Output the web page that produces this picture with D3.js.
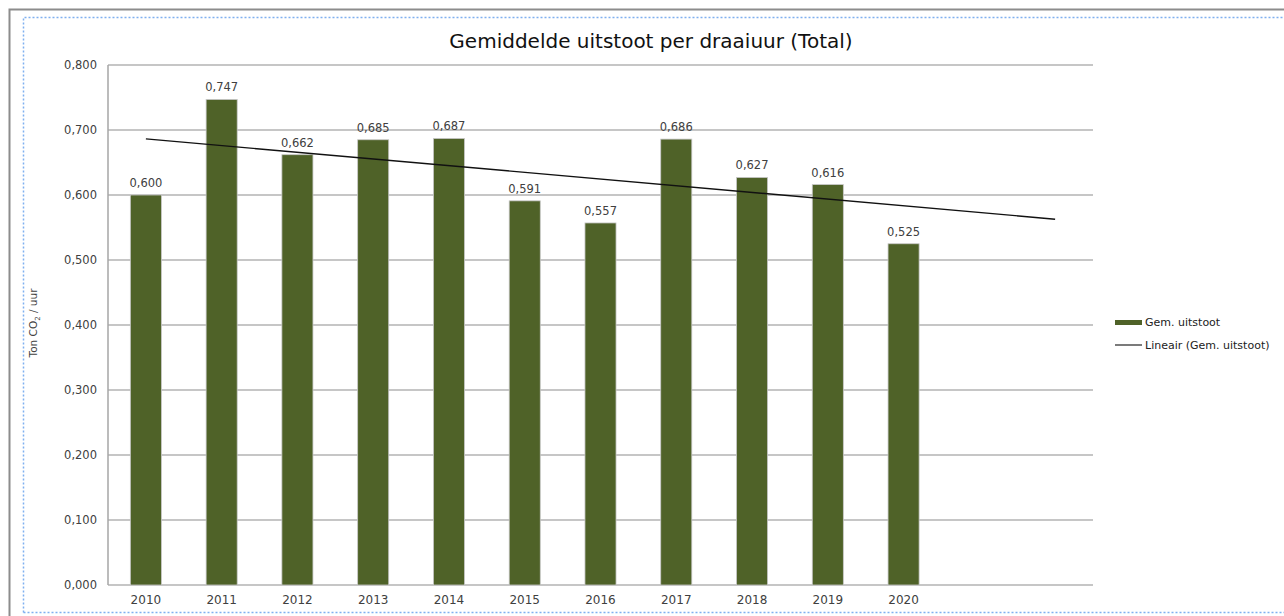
<!DOCTYPE html>
<html><head><meta charset="utf-8">
<script src="https://cdn.jsdelivr.net/npm/d3@7"></script>
<style>body{margin:0;background:#fff;}svg{display:block;font-family:"DejaVu Sans",Arial,sans-serif;}</style>
</head><body>
<svg id="c" width="1284" height="616"></svg>
<script>
const categories = ["2010","2011","2012","2013","2014","2015","2016","2017","2018","2019","2020","2021","2022"];
const years = ["2010","2011","2012","2013","2014","2015","2016","2017","2018","2019","2020"];
const values = [0.600,0.747,0.662,0.685,0.687,0.591,0.557,0.686,0.627,0.616,0.525];
const yTicks = [0,0.1,0.2,0.3,0.4,0.5,0.6,0.7,0.8];
const labels = values.map(v => v.toFixed(3).replace(".", ","));
const tickLabels = yTicks.map(v => v.toFixed(3).replace(".", ","));

(function(){
const svg = d3.select("#c");
// outer frames
svg.append("path").attr("d","M9.5,616 V9.5 H1284").attr("fill","none").attr("stroke","#8c8c8c").attr("stroke-width",2);
svg.append("path").attr("d","M23.5,612.5 V17.5 H1284 M23.5,612.5 H1284").attr("fill","none")
  .attr("stroke","#7fb0f0").attr("stroke-width",1.5).attr("stroke-dasharray","2,2");

const pL = 108, pR = 1093, pT = 65, pB = 585;
const x = d3.scaleBand().domain(categories).range([pL, pR]).paddingInner(0.59).paddingOuter(0.295);
const y = d3.scaleLinear().domain([0, 0.8]).range([pB, pT]);

// gridlines
svg.append("g").selectAll("line").data(yTicks).join("line")
  .attr("x1", pL).attr("x2", pR).attr("y1", d => y(d)).attr("y2", d => y(d))
  .attr("stroke", "#b3b3b3").attr("stroke-width", 1.5);
// y axis line
svg.append("line").attr("x1",pL).attr("x2",pL).attr("y1",pT).attr("y2",pB).attr("stroke","#a6a6a6").attr("stroke-width",1.5);

// y tick labels
svg.append("g").selectAll("text").data(yTicks).join("text")
  .attr("x", 97).attr("y", d => y(d)).attr("dy","0.35em").attr("text-anchor","end")
  .attr("font-size", 11.5).attr("fill","#404040").text((d,i) => tickLabels[i]);

// x labels
svg.append("g").selectAll("text").data(years).join("text")
  .attr("x", d => x(d) + x.bandwidth()/2).attr("y", 604).attr("text-anchor","middle")
  .attr("font-size", 12).attr("fill","#404040").text(d => d);

// bars
svg.append("g").selectAll("rect").data(years).join("rect")
  .attr("x", d => x(d)).attr("width", x.bandwidth())
  .attr("y", (d,i) => y(values[i])).attr("height", (d,i) => y(0) - y(values[i]))
  .attr("fill", "#4f6228").attr("stroke","#c8c8c8").attr("stroke-width",0.8);

// value labels
svg.append("g").selectAll("text").data(years).join("text")
  .attr("x", d => x(d) + x.bandwidth()/2).attr("y", (d,i) => y(values[i]) - 8)
  .attr("text-anchor","middle").attr("font-size", 11.5).attr("fill","#404040").text((d,i) => labels[i]);

// linear trend (least squares over data)
const n = values.length;
const xs = d3.range(n);
const mx = d3.mean(xs), my = d3.mean(values);
const slope = d3.sum(xs, i => (i-mx)*(values[i]-my)) / d3.sum(xs, i => (i-mx)*(i-mx));
const icpt = my - slope*mx;
const trend = categories.map((c,i) => ({c, v: icpt + slope*i}));
svg.append("path").datum([trend[0], trend[trend.length-1]])
  .attr("d", d3.line().x(d => x(d.c) + x.bandwidth()/2).y(d => y(d.v)))
  .attr("fill","none").attr("stroke","#111").attr("stroke-width",1.4);

// title
svg.append("text").attr("x", 651).attr("y", 48).attr("text-anchor","middle")
  .attr("font-size", 20).attr("fill","#111").text("Gemiddelde uitstoot per draaiuur (Total)");

// y axis title
const yt = svg.append("text").attr("transform","translate(37,323) rotate(-90)").attr("text-anchor","middle")
  .attr("font-size", 10.5).attr("fill","#404040");
yt.append("tspan").text("Ton CO");
yt.append("tspan").attr("font-size",7).attr("dy",3).text("2");
yt.append("tspan").attr("dy",-3).text(" / uur");

// legend
const lg = svg.append("g");
lg.append("rect").attr("x",1115).attr("y",320).attr("width",27).attr("height",5).attr("fill","#4f6228");
lg.append("text").attr("x",1145).attr("y",322.5).attr("dy","0.35em").attr("font-size",11).attr("fill","#222").text("Gem. uitstoot");
lg.append("line").attr("x1",1115).attr("x2",1142).attr("y1",345).attr("y2",345).attr("stroke","#333").attr("stroke-width",1.3);
lg.append("text").attr("x",1145).attr("y",345).attr("dy","0.35em").attr("font-size",11).attr("fill","#222").text("Lineair (Gem. uitstoot)");
})();
</script>
</body></html>
